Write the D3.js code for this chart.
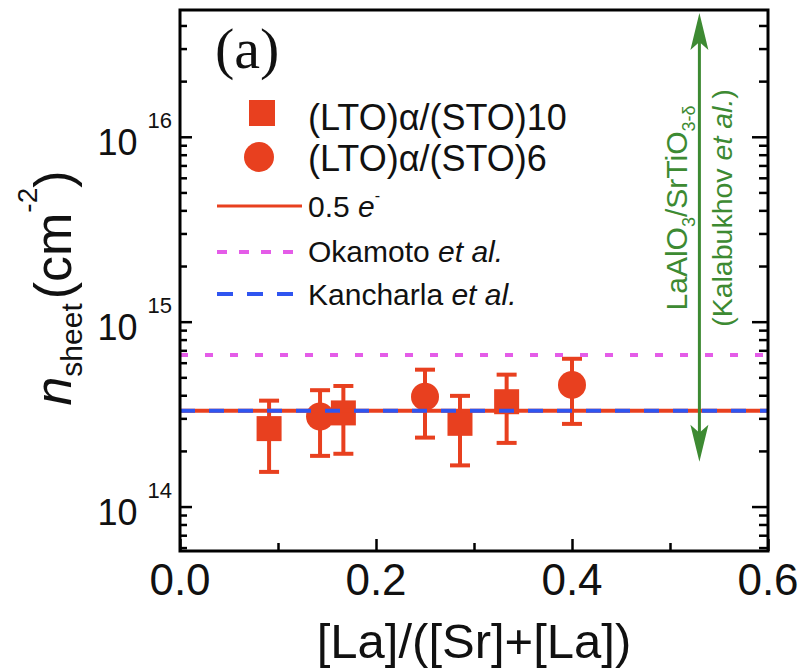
<!DOCTYPE html>
<html>
<head>
<meta charset="utf-8">
<script src="https://cdn.jsdelivr.net/npm/d3@7"></script>
<style>
  body { margin: 0; background: #fff; }
  svg { display: block; }
</style>
</head>
<body>
<svg id="chart" width="806" height="669"></svg>
<script>
// (LTO)α/(STO)10 superlattices: composition, sheet density and error (cm^-2)
const sto10X = [0.0909, 0.1667, 0.2857, 0.3333];
const sto10N = [2.64e14, 3.21e14, 2.82e14, 3.69e14];
const sto10Err = [1.10e14, 1.28e14, 1.15e14, 1.48e14];

// (LTO)α/(STO)6 superlattices
const sto6X = [0.1429, 0.25, 0.4];
const sto6N = [3.07e14, 3.93e14, 4.55e14];
const sto6Err = [1.19e14, 1.57e14, 1.75e14];

// reference densities
const halfElectron = 3.3e14;   // 0.5 e- per unit cell
const okamoto = 6.6e14;
const kancharla = 3.3e14;
const kalabukhovX = 0.53;
const kalabukhovRange = [1.75e14, 4.67e16];

// axes
const xDomain = [0, 0.6];
const yDomain = [5.75e13, 4.85e16];
const xTicks = [0, 0.2, 0.4, 0.6];
const xMinorTicks = [0.1, 0.3, 0.5];
const yTicks = [1e14, 1e15, 1e16];
const yTickExp = ["14", "15", "16"];

const RED = "#e8401f", BLUE = "#2f55f0", MAGENTA = "#e45ce8", GREEN = "#3d8a32";
const SANS = "'Liberation Sans', Arial, sans-serif";
const SERIF = "'Liberation Serif', 'Times New Roman', serif";

const W = 806, H = 669;
const margin = { left: 180, top: 10, right: 38, bottom: 118 };
const pw = W - margin.left - margin.right;
const ph = H - margin.top - margin.bottom;

const svg = d3.select("#chart");
const x = d3.scaleLinear().domain(xDomain).range([margin.left, margin.left + pw]);
const y = d3.scaleLog().domain(yDomain).range([margin.top + ph, margin.top]);

const sto10 = sto10X.map((v, i) => ({ x: v, n: sto10N[i], e: sto10Err[i] }));
const sto6 = sto6X.map((v, i) => ({ x: v, n: sto6N[i], e: sto6Err[i] }));

// error bars
function errorBars(data) {
  const g = svg.append("g").attr("stroke", RED).attr("stroke-width", 4).attr("fill", "none");
  const cap = 10;
  data.forEach(d => {
    const y0 = y(d.n - d.e), y1 = y(d.n + d.e), cx = x(d.x);
    g.append("line").attr("x1", cx).attr("x2", cx).attr("y1", y0).attr("y2", y1);
    g.append("line").attr("x1", cx - cap).attr("x2", cx + cap).attr("y1", y0).attr("y2", y0);
    g.append("line").attr("x1", cx - cap).attr("x2", cx + cap).attr("y1", y1).attr("y2", y1);
  });
}
errorBars(sto10);
errorBars(sto6);

// markers
const sq = 25;
svg.append("g").selectAll("rect").data(sto10).join("rect")
  .attr("x", d => x(d.x) - sq / 2).attr("y", d => y(d.n) - sq / 2)
  .attr("width", sq).attr("height", sq).attr("fill", RED);
svg.append("g").selectAll("circle").data(sto6).join("circle")
  .attr("cx", d => x(d.x)).attr("cy", d => y(d.n)).attr("r", 14).attr("fill", RED);

// reference lines
function hline(v, color, width, dash) {
  const l = svg.append("line")
    .attr("x1", x(xDomain[0])).attr("x2", x(xDomain[1]))
    .attr("y1", y(v)).attr("y2", y(v))
    .attr("stroke", color).attr("stroke-width", width);
  if (dash) l.attr("stroke-dasharray", dash);
}
hline(halfElectron, RED, 4);
hline(kancharla, BLUE, 4, "15,14");
hline(okamoto, MAGENTA, 4, "8,17");

// Kalabukhov range arrow
const ax = x(kalabukhovX);
const aTop = y(kalabukhovRange[1]), aBot = y(kalabukhovRange[0]);
svg.append("line").attr("x1", ax).attr("x2", ax).attr("y1", aTop + 20).attr("y2", aBot - 20)
  .attr("stroke", GREEN).attr("stroke-width", 3);
const head = "M0,0 L9,37 L0,29 L-9,37 Z";
svg.append("path").attr("d", head).attr("fill", GREEN)
  .attr("transform", `translate(${ax},${aTop})`);
svg.append("path").attr("d", head).attr("fill", GREEN)
  .attr("transform", `translate(${ax},${aBot}) rotate(180)`);

const k1 = svg.append("text").attr("transform", `translate(${ax - 12},208) rotate(-90)`)
  .attr("text-anchor", "middle").attr("font-family", SANS).attr("font-size", 30).attr("fill", GREEN);
k1.append("tspan").text("LaAlO");
k1.append("tspan").attr("font-size", 18).attr("dy", 8).text("3");
k1.append("tspan").attr("dy", -8).text("/SrTiO");
k1.append("tspan").attr("font-size", 18).attr("dy", 8).text("3-δ");
const k2 = svg.append("text").attr("transform", `translate(${ax + 33},208) rotate(-90)`)
  .attr("text-anchor", "middle").attr("font-family", SANS).attr("font-size", 28.5).attr("fill", GREEN);
k2.append("tspan").text("(Kalabukhov ");
k2.append("tspan").attr("font-style", "italic").text("et al.");
k2.append("tspan").text(")");

// axes: inward ticks on left, right and bottom
function styleAxis(g) {
  g.select(".domain").remove();
  g.selectAll("line").attr("stroke", "#000").attr("stroke-width", 2.5);
  g.selectAll("text").remove();
}
const yMinor = y.ticks().filter(v => Math.abs(Math.log10(v) - Math.round(Math.log10(v))) > 1e-6);

svg.append("g").attr("transform", `translate(0,${margin.top + ph})`)
  .call(d3.axisBottom(x).tickValues(xTicks).tickSize(-12).tickFormat("")).call(styleAxis);
svg.append("g").attr("transform", `translate(0,${margin.top + ph})`)
  .call(d3.axisBottom(x).tickValues(xMinorTicks).tickSize(-8).tickFormat("")).call(styleAxis);
svg.append("g").attr("transform", `translate(${margin.left},0)`)
  .call(d3.axisLeft(y).tickValues(yTicks).tickSize(-12).tickFormat("")).call(styleAxis);
svg.append("g").attr("transform", `translate(${margin.left},0)`)
  .call(d3.axisLeft(y).tickValues(yMinor).tickSize(-7).tickFormat("")).call(styleAxis);
svg.append("g").attr("transform", `translate(${margin.left + pw},0)`)
  .call(d3.axisRight(y).tickValues(yTicks).tickSize(-16).tickFormat("")).call(styleAxis);
svg.append("g").attr("transform", `translate(${margin.left + pw},0)`)
  .call(d3.axisRight(y).tickValues(yMinor).tickSize(-9).tickFormat("")).call(styleAxis);

// frame
svg.append("rect").attr("x", margin.left).attr("y", margin.top)
  .attr("width", pw).attr("height", ph)
  .attr("fill", "none").attr("stroke", "#000").attr("stroke-width", 3);

// tick labels
svg.append("g").selectAll("text").data(xTicks).join("text")
  .attr("x", d => x(d)).attr("y", 595).attr("text-anchor", "middle")
  .attr("font-family", SANS).attr("font-size", 44).attr("fill", "#111")
  .text(d3.format(".1f"));

yTicks.forEach((v, i) => {
  const t = svg.append("text").attr("x", 172).attr("y", y(v) + 18)
    .attr("text-anchor", "end").attr("font-family", SANS).attr("font-size", 36).attr("fill", "#111");
  t.append("tspan").text("10");
  t.append("tspan").attr("font-size", 22).attr("dx", 10).attr("dy", -27).text(yTickExp[i]);
});

// axis titles
svg.append("text").attr("x", margin.left + pw / 2).attr("y", 658)
  .attr("text-anchor", "middle").attr("font-family", SANS).attr("font-size", 49).attr("fill", "#111")
  .text("[La]/([Sr]+[La])");

const yt = svg.append("text").attr("transform", "translate(71,288) rotate(-90)")
  .attr("text-anchor", "middle").attr("font-family", SANS).attr("font-size", 52).attr("fill", "#111");
yt.append("tspan").attr("font-style", "italic").text("n");
yt.append("tspan").attr("font-size", 30).attr("dy", 11).text("sheet");
yt.append("tspan").attr("dy", -11).attr("dx", 4).text("(cm");
yt.append("tspan").attr("font-size", 28).attr("dy", -34).text("-2");
yt.append("tspan").attr("dy", 34).text(")");

// panel label
svg.append("text").attr("x", 215).attr("y", 68)
  .attr("font-family", SERIF).attr("font-size", 58).attr("fill", "#111").text("(a)");

// legend
const lx = 308;
svg.append("rect").attr("x", 262 - 13).attr("y", 113 - 13).attr("width", 26).attr("height", 26).attr("fill", RED);
svg.append("circle").attr("cx", 259).attr("cy", 157).attr("r", 15).attr("fill", RED);
svg.append("line").attr("x1", 217).attr("x2", 302).attr("y1", 206).attr("y2", 206)
  .attr("stroke", RED).attr("stroke-width", 3);
svg.append("line").attr("x1", 217).attr("x2", 302).attr("y1", 252).attr("y2", 252)
  .attr("stroke", MAGENTA).attr("stroke-width", 4).attr("stroke-dasharray", "10,12");
svg.append("line").attr("x1", 217).attr("x2", 302).attr("y1", 294).attr("y2", 294)
  .attr("stroke", BLUE).attr("stroke-width", 4).attr("stroke-dasharray", "16,14");

function legendText(yb, fs) {
  return svg.append("text").attr("x", lx).attr("y", yb)
    .attr("font-family", SANS).attr("font-size", fs).attr("fill", "#111");
}
legendText(130, 36).text("(LTO)α/(STO)10");
legendText(171, 36).text("(LTO)α/(STO)6");
const t3 = legendText(217, 30);
t3.append("tspan").text("0.5 ");
t3.append("tspan").attr("font-style", "italic").text("e");
t3.append("tspan").attr("font-size", 16).attr("dy", -16).text("-");
const t4 = legendText(262, 30);
t4.append("tspan").text("Okamoto ");
t4.append("tspan").attr("font-style", "italic").text("et al.");
const t5 = legendText(305, 30);
t5.append("tspan").text("Kancharla ");
t5.append("tspan").attr("font-style", "italic").text("et al.");
</script>
</body>
</html>
